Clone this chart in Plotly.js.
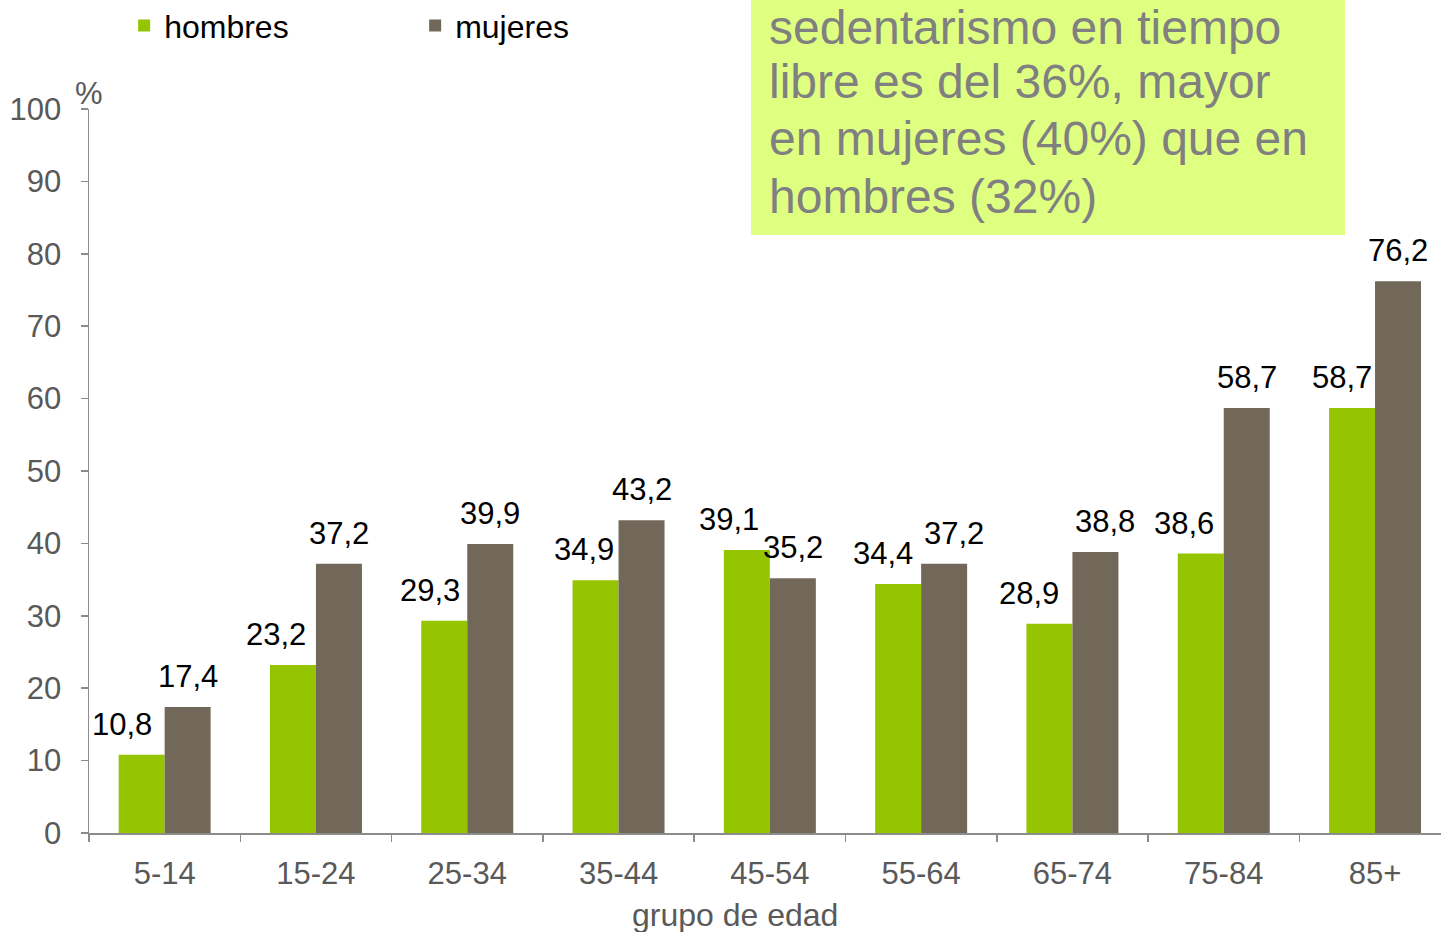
<!DOCTYPE html>
<html>
<head>
<meta charset="utf-8">
<script src="https://cdn.plot.ly/plotly-3.0.1.min.js"></script>
<style>
  html, body { margin: 0; padding: 0; background: #ffffff; overflow: hidden; }
  #chart { width: 1441px; height: 932px; }
</style>
</head>
<body>
<div id="chart"></div>
<script>
// ---- data ----
const grupos = ["5-14", "15-24", "25-34", "35-44", "45-54", "55-64", "65-74", "75-84", "85+"];
const hombres = [10.8, 23.2, 29.3, 34.9, 39.1, 34.4, 28.9, 38.6, 58.7];
const mujeres = [17.4, 37.2, 39.9, 43.2, 35.2, 37.2, 38.8, 58.7, 76.2];
const serieNombres = ["hombres", "mujeres"];
const yTicks = [0, 10, 20, 30, 40, 50, 60, 70, 80, 90, 100];
const textoCaja = ["sedentarismo en tiempo", "libre es del 36%, mayor", "en mujeres (40%) que en", "hombres (32%)"];
const ejeX = "grupo de edad";
const ejeY = "%";

// ---- styles / label nudges (pixels) ----
const colHombres = "#95c500";
const colMujeres = "#726859";
const hombresDx = [-20, -17, -14, -12, -18, -15, -20, -17, -10];
const mujeresDx = [0, 0, 0, 0, 0, 10, 10, 0, 0];
const lineShift = [-5, -59, -116, -174];
const FONT = "Liberation Sans, Arial, sans-serif";
const LABEL_SIZE = 31;
const fmt = v => v.toFixed(1).replace(".", ",");

const traces = [
  { type: "bar", name: serieNombres[0], x: grupos, y: hombres,
    marker: { color: colHombres }, hoverinfo: "x+y" },
  { type: "bar", name: serieNombres[1], x: grupos, y: mujeres,
    marker: { color: colMujeres }, hoverinfo: "x+y" }
];

const annotations = [];
grupos.forEach((g, i) => {
  annotations.push({ x: g, y: hombres[i], xref: "x", yref: "y", text: fmt(hombres[i]),
    showarrow: false, xanchor: "center", yanchor: "bottom", xshift: -23 + hombresDx[i], yshift: 11,
    font: { family: FONT, size: LABEL_SIZE, color: "#000000" } });
  annotations.push({ x: g, y: mujeres[i], xref: "x", yref: "y", text: fmt(mujeres[i]),
    showarrow: false, xanchor: "center", yanchor: "bottom", xshift: 23 + mujeresDx[i], yshift: 11,
    font: { family: FONT, size: LABEL_SIZE, color: "#000000" } });
});
// y unit label
annotations.push({ x: 0, y: 1.022, xref: "paper", yref: "paper", text: ejeY, showarrow: false,
  xanchor: "center", yanchor: "middle", font: { family: FONT, size: 31, color: "#595959" } });
// x axis title
annotations.push({ x: 0.478, y: -0.113, xref: "paper", yref: "paper", text: ejeX, showarrow: false,
  xanchor: "center", yanchor: "middle", font: { family: FONT, size: 32, color: "#595959" } });
// highlighted text box, one annotation per line
textoCaja.forEach((line, i) => {
  annotations.push({ x: 0.5018, y: 1.0795, xref: "paper", yref: "paper", text: line,
    showarrow: false, xanchor: "left", yanchor: "bottom", align: "left", yshift: lineShift[i],
    font: { family: FONT, size: 48, color: "#808080" } });
});

const layout = {
  width: 1441, height: 932,
  margin: { l: 89, r: 0, t: 109, b: 99, pad: 0, autoexpand: false },
  paper_bgcolor: "#ffffff", plot_bgcolor: "#ffffff",
  font: { family: FONT, size: 31, color: "#595959" },
  barmode: "group", bargap: 0.392, bargroupgap: 0,
  showlegend: true,
  legend: { orientation: "h", x: 0.026, y: 1.115, xanchor: "left", yanchor: "middle",
    font: { family: FONT, size: 32, color: "#000000" }, entrywidth: 246, bgcolor: "rgba(0,0,0,0)" },
  xaxis: {
    type: "category", range: [-0.5, 8.436], showgrid: false, zeroline: false,
    showline: true, linecolor: "#8c8c8c", linewidth: 1.5,
    ticks: "outside", tickson: "boundaries", ticklen: 7, tickcolor: "#8c8c8c", tickwidth: 1.5,
    ticklabelstandoff: 12, tickfont: { family: FONT, size: 31, color: "#595959" }
  },
  yaxis: {
    range: [0, 100], tickvals: yTicks, showgrid: false, zeroline: false,
    showline: true, linecolor: "#8c8c8c", linewidth: 1.5,
    ticks: "outside", ticklen: 7, tickcolor: "#8c8c8c", tickwidth: 1.5,
    ticklabelstandoff: 13, tickfont: { family: FONT, size: 31, color: "#595959" }
  },
  shapes: [
    { type: "rect", xref: "paper", yref: "paper", x0: 0.4896, x1: 0.929, y0: 0.826, y1: 1.2,
      fillcolor: "#dfff80", line: { width: 0 }, layer: "below" }
  ],
  annotations: annotations
};

Plotly.newPlot("chart", traces, layout, { displayModeBar: false, staticPlot: true });
</script>
</body>
</html>
